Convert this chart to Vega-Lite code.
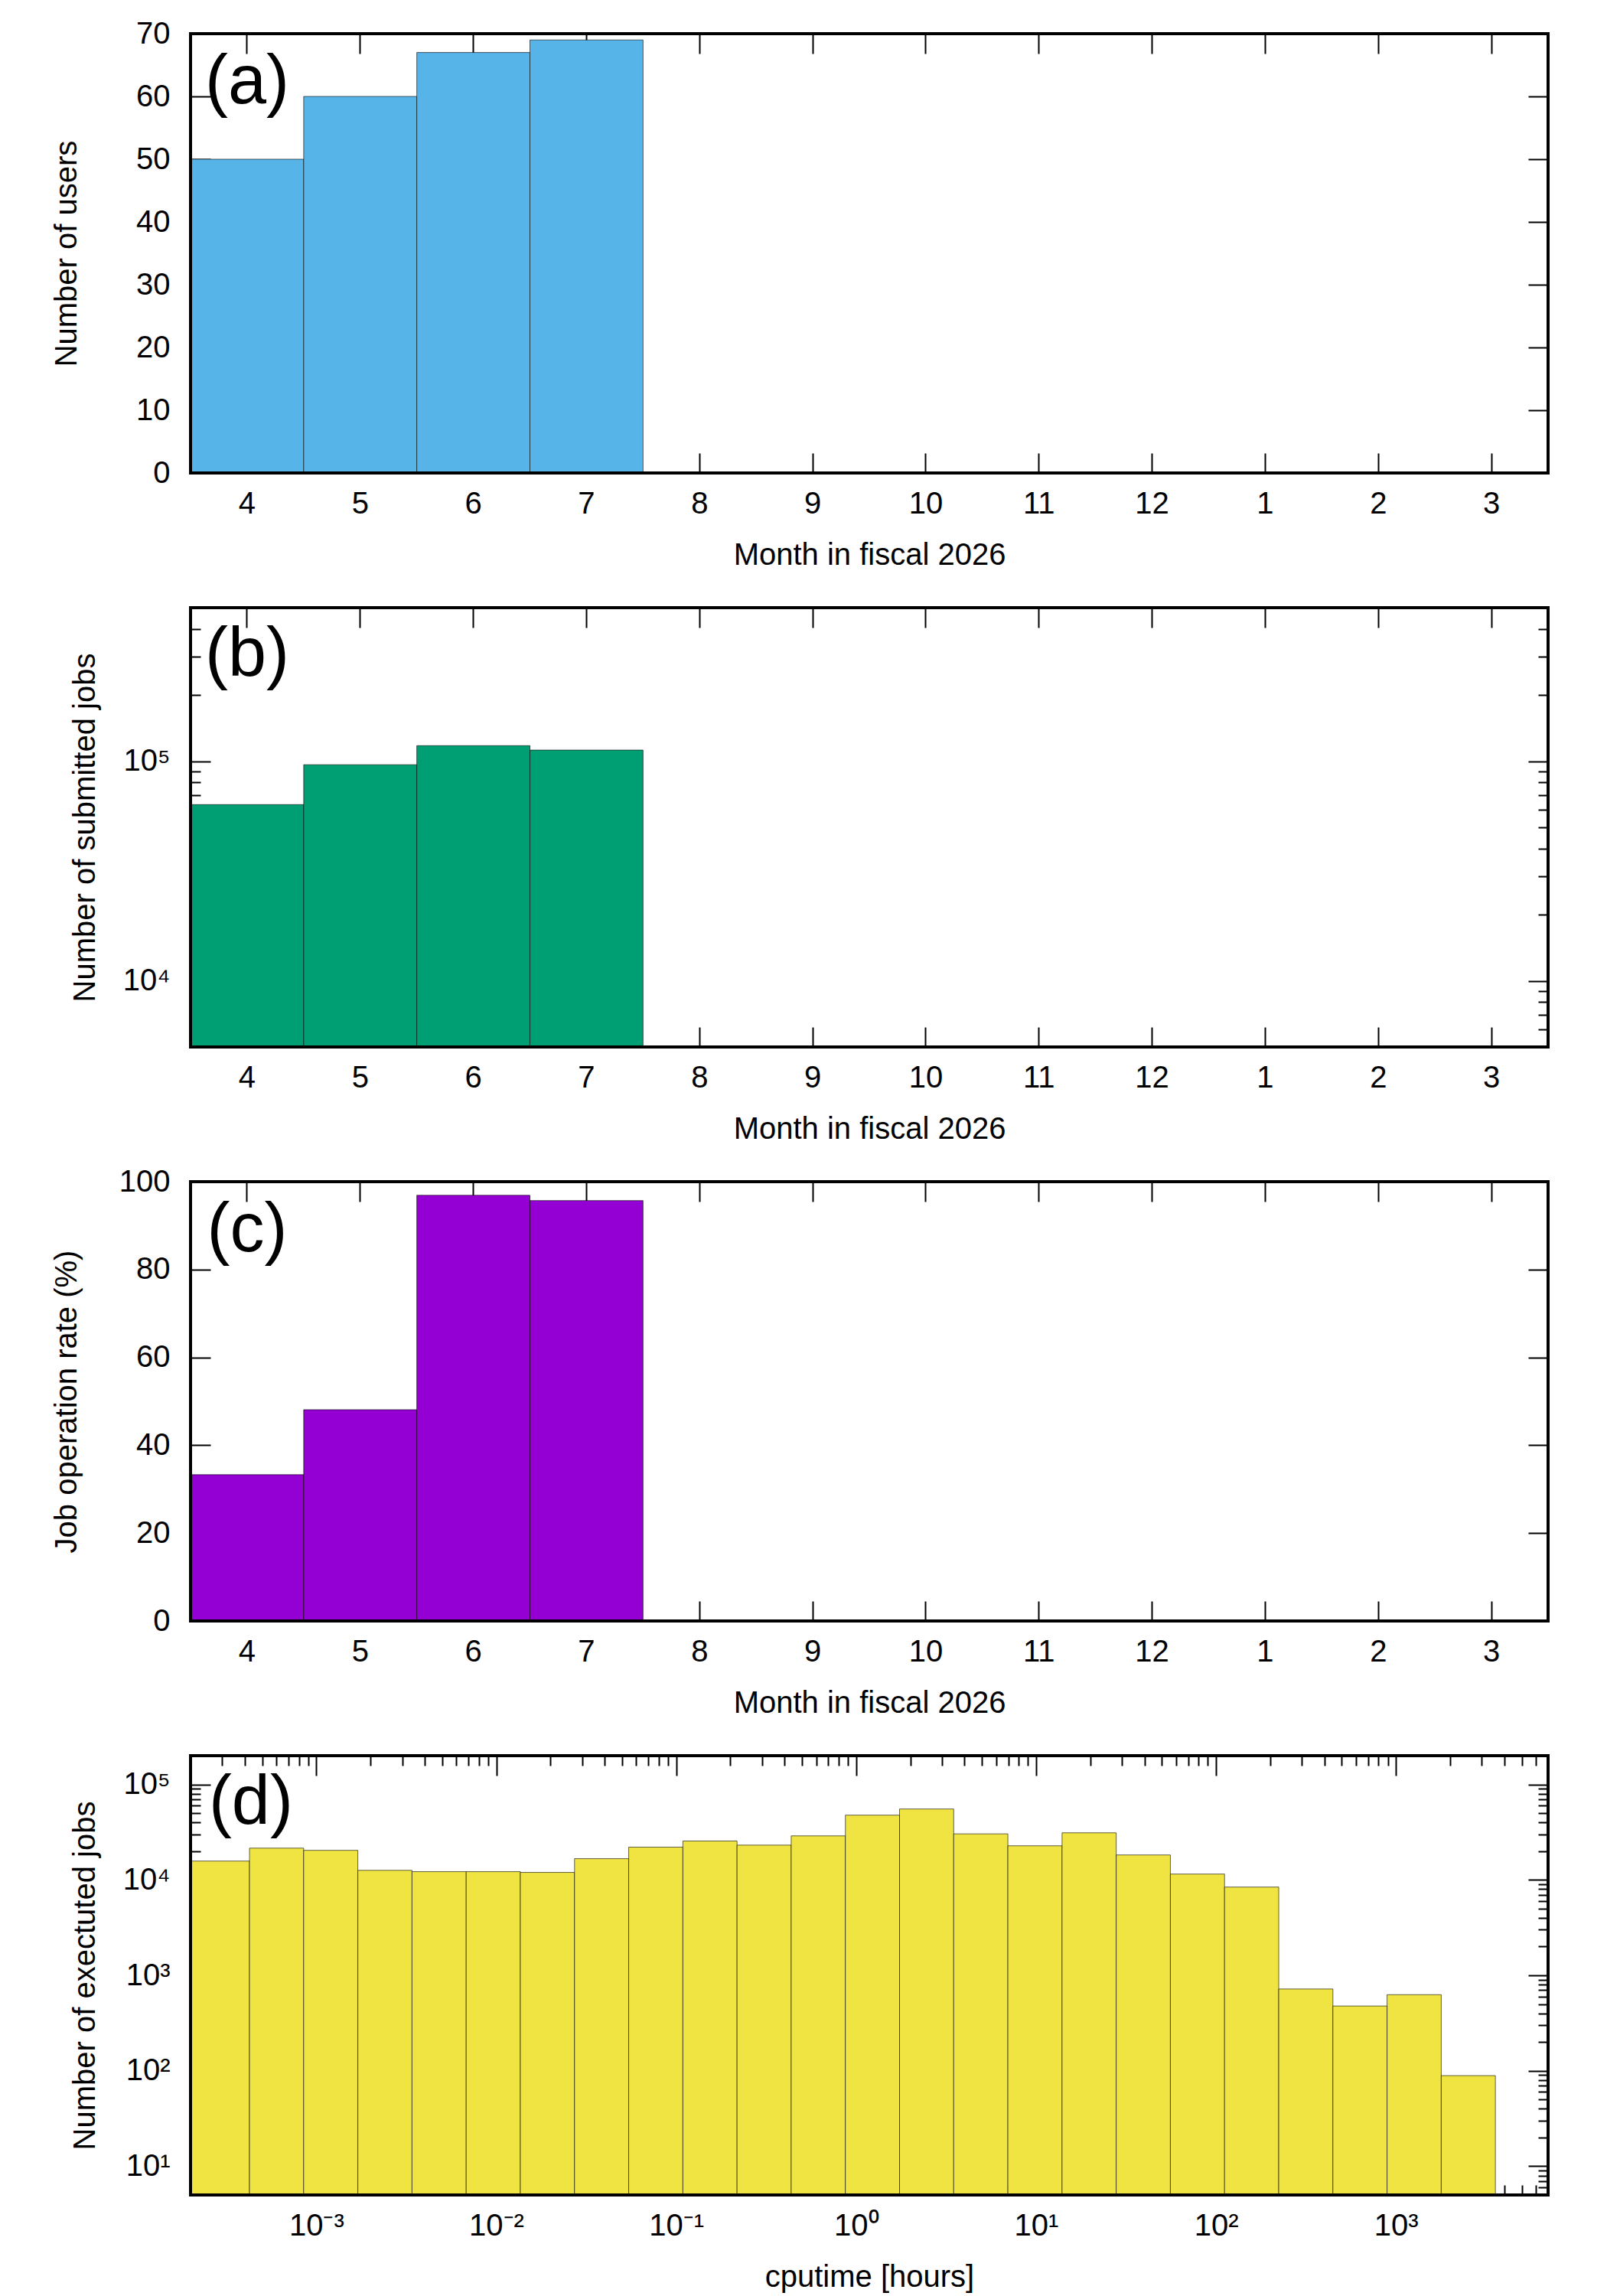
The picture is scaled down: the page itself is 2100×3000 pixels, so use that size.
{
  "$schema": "https://vega.github.io/schema/vega-lite/v6.json",
  "background": "#ffffff",
  "padding": {"left": 66, "top": 24, "right": 20, "bottom": 10},
  "spacing": 176,
  "bounds": "flush",
  "config": {
    "font": "Liberation Sans",
    "view": {"stroke": null},
    "axis": {
      "domain": false,
      "grid": false,
      "ticks": true,
      "tickColor": "#000000",
      "tickWidth": 2,
      "tickSize": -26,
      "labelPadding": 53,
      "labelFont": "Liberation Sans",
      "labelFontSize": 40,
      "labelColor": "#000000",
      "titleFont": "Liberation Sans",
      "titleFontSize": 40,
      "titleFontWeight": "normal",
      "titleColor": "#000000"
    },
    "axisX": {"labelPadding": 46}
  },
  "vconcat": [
    {
      "width": 1774,
      "height": 574,
      "data": {"values": [
        {"month": "4", "users": 50},
        {"month": "5", "users": 60},
        {"month": "6", "users": 67},
        {"month": "7", "users": 69}
      ]},
      "layer": [
        {
          "mark": {"type": "bar", "color": "#56B4E9", "stroke": "#000000", "strokeWidth": 1, "strokeOpacity": 0.6},
          "encoding": {
            "x": {"field": "month", "type": "ordinal",
              "scale": {"domain": ["4","5","6","7","8","9","10","11","12","1","2","3"], "paddingInner": 0, "paddingOuter": 0},
              "axis": {"orient": "bottom", "title": "Month in fiscal 2026", "labelAngle": 0, "bandPosition": 0.5, "titleY": 119, "titleBaseline": "alphabetic"}},
            "y": {"field": "users", "type": "quantitative",
              "scale": {"domain": [0, 70], "nice": false},
              "axis": {"orient": "left", "title": "Number of users", "values": [0,10,20,30,40,50,60,70], "titleX": -150, "titleBaseline": "alphabetic"}}
          }
        },
        {
          "data": {"values": [{}]},
          "mark": {"type": "rule", "strokeWidth": 4, "color": "#000000", "strokeCap": "square"},
          "encoding": {"y": {"datum": 70, "type": "quantitative", "axis": {"orient": "right", "labels": false, "title": null, "values": [10,20,30,40,50,60]}}}
        },
        {
          "data": {"values": [{}]},
          "mark": {"type": "rule", "strokeWidth": 4, "color": "#000000", "strokeCap": "square"},
          "encoding": {"y": {"datum": 0, "type": "quantitative", "axis": null}}
        },
        {
          "data": {"values": [{}]},
          "mark": {"type": "rule", "strokeWidth": 4, "color": "#000000", "strokeCap": "square"},
          "encoding": {"x": {"datum": "4", "type": "ordinal", "bandPosition": 0, "axis": {"orient": "top", "labels": false, "title": null, "bandPosition": 0.5}}}
        },
        {
          "data": {"values": [{}]},
          "mark": {"type": "rule", "strokeWidth": 4, "color": "#000000", "strokeCap": "square"},
          "encoding": {"x": {"datum": "3", "type": "ordinal", "bandPosition": 1, "axis": null}}
        },
        {
          "data": {"values": [{}]},
          "mark": {"type": "text", "text": "(a)", "fontSize": 90, "font": "Liberation Sans", "align": "center", "baseline": "alphabetic", "color": "#000000"},
          "encoding": {
            "x": {"datum": "4", "type": "ordinal", "axis": null},
            "y": {"datum": 58.9, "type": "quantitative", "axis": null}
          }
        }
      ],
      "resolve": {"axis": {"x": "independent", "y": "independent"}}
    },
    {
      "width": 1774,
      "height": 574,
      "data": {"values": [
        {"month": "4", "jobs": 63450},
        {"month": "5", "jobs": 96400},
        {"month": "6", "jobs": 117700},
        {"month": "7", "jobs": 112400}
      ]},
      "layer": [
        {
          "mark": {"type": "bar", "color": "#009E73", "stroke": "#000000", "strokeWidth": 1, "strokeOpacity": 0.6},
          "encoding": {
            "x": {"field": "month", "type": "ordinal",
              "scale": {"domain": ["4","5","6","7","8","9","10","11","12","1","2","3"], "paddingInner": 0, "paddingOuter": 0},
              "axis": {"orient": "bottom", "title": "Month in fiscal 2026", "labelAngle": 0, "bandPosition": 0.5, "titleY": 119, "titleBaseline": "alphabetic"}},
            "y": {"field": "jobs", "type": "quantitative",
              "scale": {"type": "log", "domain": [5000, 500000], "nice": false},
              "axis": {"orient": "left", "title": "Number of submitted jobs", "titleX": -126, "titleBaseline": "alphabetic",
                "values": [6000,7000,8000,9000,10000,20000,30000,40000,50000,60000,70000,80000,90000,100000,200000,300000,400000],
                "labelExpr": "abs(log(datum.value)/LN10 - round(log(datum.value)/LN10)) < 0.001 ? '10' + ['⁻⁴','⁻³','⁻²','⁻¹','⁰','¹','²','³','⁴','⁵'][round(log(datum.value)/LN10) + 4] : ''",
                "tickSize": {"condition": {"test": "abs(log(datum.value)/LN10 - round(log(datum.value)/LN10)) < 0.001", "value": -26}, "value": -13}}},
            "y2": {"datum": 5000}
          }
        },
        {
          "data": {"values": [{}]},
          "mark": {"type": "rule", "strokeWidth": 4, "color": "#000000", "strokeCap": "square"},
          "encoding": {"y": {"datum": 500000, "type": "quantitative", "axis": {"orient": "right", "labels": false, "title": null,
            "values": [6000,7000,8000,9000,10000,20000,30000,40000,50000,60000,70000,80000,90000,100000,200000,300000,400000],
            "tickSize": {"condition": {"test": "abs(log(datum.value)/LN10 - round(log(datum.value)/LN10)) < 0.001", "value": -26}, "value": -13}}}}
        },
        {
          "data": {"values": [{}]},
          "mark": {"type": "rule", "strokeWidth": 4, "color": "#000000", "strokeCap": "square"},
          "encoding": {"y": {"datum": 5000, "type": "quantitative", "axis": null}}
        },
        {
          "data": {"values": [{}]},
          "mark": {"type": "rule", "strokeWidth": 4, "color": "#000000", "strokeCap": "square"},
          "encoding": {"x": {"datum": "4", "type": "ordinal", "bandPosition": 0, "axis": {"orient": "top", "labels": false, "title": null, "bandPosition": 0.5}}}
        },
        {
          "data": {"values": [{}]},
          "mark": {"type": "rule", "strokeWidth": 4, "color": "#000000", "strokeCap": "square"},
          "encoding": {"x": {"datum": "3", "type": "ordinal", "bandPosition": 1, "axis": null}}
        },
        {
          "data": {"values": [{}]},
          "mark": {"type": "text", "text": "(b)", "fontSize": 90, "font": "Liberation Sans", "align": "center", "baseline": "alphabetic", "color": "#000000"},
          "encoding": {
            "x": {"datum": "4", "type": "ordinal", "axis": null},
            "y": {"datum": 245000, "type": "quantitative", "axis": null}
          }
        }
      ],
      "resolve": {"axis": {"x": "independent", "y": "independent"}}
    },
    {
      "width": 1774,
      "height": 574,
      "data": {"values": [
        {"month": "4", "rate": 33.3},
        {"month": "5", "rate": 48.1},
        {"month": "6", "rate": 96.9},
        {"month": "7", "rate": 95.7}
      ]},
      "layer": [
        {
          "mark": {"type": "bar", "color": "#9400D3", "stroke": "#000000", "strokeWidth": 1, "strokeOpacity": 0.6},
          "encoding": {
            "x": {"field": "month", "type": "ordinal",
              "scale": {"domain": ["4","5","6","7","8","9","10","11","12","1","2","3"], "paddingInner": 0, "paddingOuter": 0},
              "axis": {"orient": "bottom", "title": "Month in fiscal 2026", "labelAngle": 0, "bandPosition": 0.5, "titleY": 119, "titleBaseline": "alphabetic"}},
            "y": {"field": "rate", "type": "quantitative",
              "scale": {"domain": [0, 100], "nice": false},
              "axis": {"orient": "left", "title": "Job operation rate (%)", "values": [0,20,40,60,80,100], "titleX": -150, "titleBaseline": "alphabetic"}}
          }
        },
        {
          "data": {"values": [{}]},
          "mark": {"type": "rule", "strokeWidth": 4, "color": "#000000", "strokeCap": "square"},
          "encoding": {"y": {"datum": 100, "type": "quantitative", "axis": {"orient": "right", "labels": false, "title": null, "values": [20,40,60,80]}}}
        },
        {
          "data": {"values": [{}]},
          "mark": {"type": "rule", "strokeWidth": 4, "color": "#000000", "strokeCap": "square"},
          "encoding": {"y": {"datum": 0, "type": "quantitative", "axis": null}}
        },
        {
          "data": {"values": [{}]},
          "mark": {"type": "rule", "strokeWidth": 4, "color": "#000000", "strokeCap": "square"},
          "encoding": {"x": {"datum": "4", "type": "ordinal", "bandPosition": 0, "axis": {"orient": "top", "labels": false, "title": null, "bandPosition": 0.5}}}
        },
        {
          "data": {"values": [{}]},
          "mark": {"type": "rule", "strokeWidth": 4, "color": "#000000", "strokeCap": "square"},
          "encoding": {"x": {"datum": "3", "type": "ordinal", "bandPosition": 1, "axis": null}}
        },
        {
          "data": {"values": [{}]},
          "mark": {"type": "text", "text": "(c)", "fontSize": 90, "font": "Liberation Sans", "align": "center", "baseline": "alphabetic", "color": "#000000"},
          "encoding": {
            "x": {"datum": "4", "type": "ordinal", "axis": null},
            "y": {"datum": 84.1, "type": "quantitative", "axis": null}
          }
        }
      ],
      "resolve": {"axis": {"x": "independent", "y": "independent"}}
    },
    {
      "width": 1774,
      "height": 574,
      "data": {"values": [
        {"lo": 0.0002, "hi": 0.0004253, "count": 15740},
        {"lo": 0.0004253, "hi": 0.0008506, "count": 21500},
        {"lo": 0.0008506, "hi": 0.001701, "count": 20400},
        {"lo": 0.001701, "hi": 0.003402, "count": 12590},
        {"lo": 0.003402, "hi": 0.006805, "count": 12190},
        {"lo": 0.006805, "hi": 0.01361, "count": 12190},
        {"lo": 0.01361, "hi": 0.02722, "count": 11970},
        {"lo": 0.02722, "hi": 0.05444, "count": 16680},
        {"lo": 0.05444, "hi": 0.1089, "count": 22030},
        {"lo": 0.1089, "hi": 0.2178, "count": 25530},
        {"lo": 0.2178, "hi": 0.4355, "count": 23120},
        {"lo": 0.4355, "hi": 0.871, "count": 28910},
        {"lo": 0.871, "hi": 1.742, "count": 47640},
        {"lo": 1.742, "hi": 3.484, "count": 55300},
        {"lo": 3.484, "hi": 6.968, "count": 30340},
        {"lo": 6.968, "hi": 13.94, "count": 22750},
        {"lo": 13.94, "hi": 27.87, "count": 31120},
        {"lo": 27.87, "hi": 55.74, "count": 18240},
        {"lo": 55.74, "hi": 111.5, "count": 11510},
        {"lo": 111.5, "hi": 223, "count": 8410},
        {"lo": 223, "hi": 446, "count": 719},
        {"lo": 446, "hi": 892, "count": 477},
        {"lo": 892, "hi": 1784, "count": 627},
        {"lo": 1784, "hi": 3568, "count": 89}
      ]},
      "layer": [
        {
          "mark": {"type": "bar", "color": "#F0E442", "stroke": "#000000", "strokeWidth": 1, "strokeOpacity": 0.6},
          "encoding": {
            "x": {"field": "lo", "type": "quantitative",
              "scale": {"type": "log", "domain": [0.0002, 7000], "nice": false},
              "axis": {"orient": "bottom", "title": "cputime [hours]", "titleY": 119, "titleBaseline": "alphabetic",
                "values": [0.0003,0.0004,0.0005,0.0006,0.0007,0.0008,0.0009,0.001,0.002,0.003,0.004,0.005,0.006,0.007,0.008,0.009,0.01,0.02,0.03,0.04,0.05,0.06,0.07,0.08,0.09,0.1,0.2,0.3,0.4,0.5,0.6,0.7,0.8,0.9,1,2,3,4,5,6,7,8,9,10,20,30,40,50,60,70,80,90,100,200,300,400,500,600,700,800,900,1000,2000,3000,4000,5000,6000],
                "labelExpr": "abs(log(datum.value)/LN10 - round(log(datum.value)/LN10)) < 0.001 ? '10' + ['⁻⁴','⁻³','⁻²','⁻¹','⁰','¹','²','³','⁴','⁵'][round(log(datum.value)/LN10) + 4] : ''",
                "tickSize": {"condition": {"test": "abs(log(datum.value)/LN10 - round(log(datum.value)/LN10)) < 0.001", "value": -26}, "value": -13}}},
            "x2": {"field": "hi"},
            "y": {"field": "count", "type": "quantitative",
              "scale": {"type": "log", "domain": [5, 200000], "nice": false},
              "axis": {"orient": "left", "title": "Number of exectuted jobs", "titleX": -126, "titleBaseline": "alphabetic",
                "values": [6,7,8,9,10,20,30,40,50,60,70,80,90,100,200,300,400,500,600,700,800,900,1000,2000,3000,4000,5000,6000,7000,8000,9000,10000,20000,30000,40000,50000,60000,70000,80000,90000,100000],
                "labelExpr": "abs(log(datum.value)/LN10 - round(log(datum.value)/LN10)) < 0.001 ? '10' + ['⁻⁴','⁻³','⁻²','⁻¹','⁰','¹','²','³','⁴','⁵'][round(log(datum.value)/LN10) + 4] : ''",
                "tickSize": {"condition": {"test": "abs(log(datum.value)/LN10 - round(log(datum.value)/LN10)) < 0.001", "value": -26}, "value": -13}}},
            "y2": {"datum": 5}
          }
        },
        {
          "data": {"values": [{}]},
          "mark": {"type": "rule", "strokeWidth": 4, "color": "#000000", "strokeCap": "square"},
          "encoding": {"y": {"datum": 200000, "type": "quantitative", "axis": {"orient": "right", "labels": false, "title": null,
            "values": [6,7,8,9,10,20,30,40,50,60,70,80,90,100,200,300,400,500,600,700,800,900,1000,2000,3000,4000,5000,6000,7000,8000,9000,10000,20000,30000,40000,50000,60000,70000,80000,90000,100000],
            "tickSize": {"condition": {"test": "abs(log(datum.value)/LN10 - round(log(datum.value)/LN10)) < 0.001", "value": -26}, "value": -13}}}}
        },
        {
          "data": {"values": [{}]},
          "mark": {"type": "rule", "strokeWidth": 4, "color": "#000000", "strokeCap": "square"},
          "encoding": {"y": {"datum": 5, "type": "quantitative", "axis": null}}
        },
        {
          "data": {"values": [{}]},
          "mark": {"type": "rule", "strokeWidth": 4, "color": "#000000", "strokeCap": "square"},
          "encoding": {"x": {"datum": 0.0002, "type": "quantitative", "axis": {"orient": "top", "labels": false, "title": null,
            "values": [0.0003,0.0004,0.0005,0.0006,0.0007,0.0008,0.0009,0.001,0.002,0.003,0.004,0.005,0.006,0.007,0.008,0.009,0.01,0.02,0.03,0.04,0.05,0.06,0.07,0.08,0.09,0.1,0.2,0.3,0.4,0.5,0.6,0.7,0.8,0.9,1,2,3,4,5,6,7,8,9,10,20,30,40,50,60,70,80,90,100,200,300,400,500,600,700,800,900,1000,2000,3000,4000,5000,6000],
            "tickSize": {"condition": {"test": "abs(log(datum.value)/LN10 - round(log(datum.value)/LN10)) < 0.001", "value": -26}, "value": -13}}}}
        },
        {
          "data": {"values": [{}]},
          "mark": {"type": "rule", "strokeWidth": 4, "color": "#000000", "strokeCap": "square"},
          "encoding": {"x": {"datum": 7000, "type": "quantitative", "axis": null}}
        },
        {
          "data": {"values": [{}]},
          "mark": {"type": "text", "text": "(d)", "fontSize": 90, "font": "Liberation Sans", "align": "center", "baseline": "alphabetic", "color": "#000000"},
          "encoding": {
            "x": {"datum": 0.000433, "type": "quantitative", "axis": null},
            "y": {"datum": 38800, "type": "quantitative", "axis": null}
          }
        }
      ],
      "resolve": {"axis": {"x": "independent", "y": "independent"}}
    }
  ]
}
